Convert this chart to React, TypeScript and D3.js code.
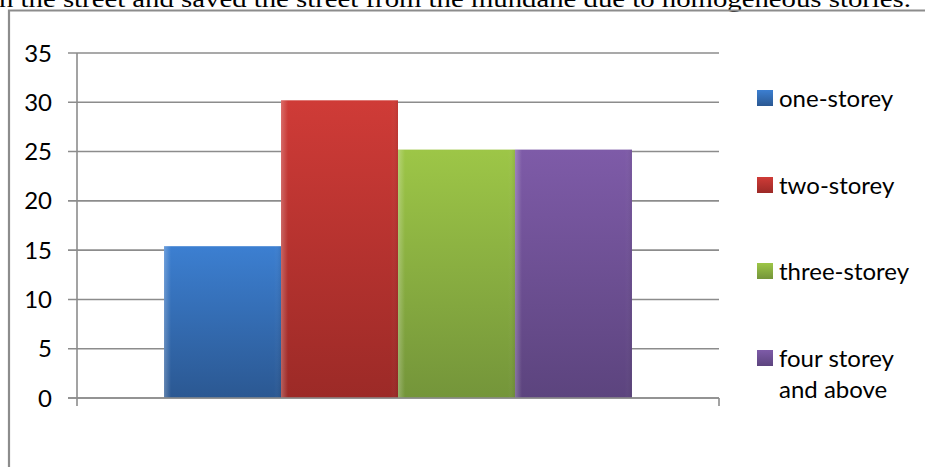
import React from "react";
import * as d3 from "d3";

const categories = ["one-storey", "two-storey", "three-storey", "four storey and above"];
const legendLines = [["one-storey"], ["two-storey"], ["three-storey"], ["four storey", "and above"]];
const values = [15.4, 30.2, 25.2, 25.2];
const yTicks = [0, 5, 10, 15, 20, 25, 30, 35];
const colorsTop = ["#3c7fd1", "#cf3b37", "#9dc647", "#7e5ba8"];
const colorsBottom = ["#2b5892", "#9c2a27", "#74953a", "#5c447e"];
const headerText = "n the street and saved the street from the mundane due to homogeneous stories.";

export default function App() {
  const W = 925, H = 467;
  const left = 77, right = 719, top = 53, bottom = 398;
  const y = d3.scaleLinear().domain([0, 35]).range([bottom, top]);
  const x = d3.scaleBand<string>().domain(categories).range([left, right]).paddingInner(0).paddingOuter(0.744);
  const grid = "#8c8c8c";
  const font = "Lato, 'Open Sans', sans-serif";
  const legendY = [98, 185, 271, 358];

  return (
    <div style={{ position: "absolute", left: 0, top: 0, width: W, height: H, background: "#fff" }}>
      <svg width={W} height={H} style={{ display: "block" }}>
        <defs>
          {categories.map((c, i) => (
            <linearGradient key={c} id={`g${i}`} x1="0" y1="0" x2="0" y2="1">
              <stop offset="0%" stopColor={colorsTop[i]} />
              <stop offset="100%" stopColor={colorsBottom[i]} />
            </linearGradient>
          ))}
          <linearGradient id="edge" x1="0" y1="0" x2="1" y2="0">
            <stop offset="0%" stopColor="#fff" stopOpacity="0.25" />
            <stop offset="6%" stopColor="#fff" stopOpacity="0" />
            <stop offset="94%" stopColor="#fff" stopOpacity="0" />
            <stop offset="100%" stopColor="#000" stopOpacity="0.08" />
          </linearGradient>
        </defs>
        <text x={-1} y={7} fontFamily="'Liberation Serif', 'DejaVu Serif', serif" fontSize={24}
          textLength={912} lengthAdjust="spacingAndGlyphs" fill="#000">{headerText}</text>
        {/* outer frame */}
        <path d={`M9,${H + 5} V10.5 H${W + 5}`} fill="none" stroke={grid} strokeWidth={2.2} />
        {/* gridlines */}
        {yTicks.map((t) => (
          <g key={t}>
            <line x1={68} x2={right} y1={y(t)} y2={y(t)} stroke={grid} strokeWidth={1.6} />
            <text x={52} y={y(t)} dy="0.36em" textAnchor="end" fontFamily={font} fontSize={24} fill="#000">{t}</text>
          </g>
        ))}
        {/* bars */}
        {categories.map((c, i) => (
          <g key={c}>
            <rect x={x(c)!} y={y(values[i])} width={x.bandwidth()} height={y(0) - y(values[i])} fill={`url(#g${i})`} />
            <rect x={x(c)!} y={y(values[i])} width={x.bandwidth()} height={y(0) - y(values[i])} fill="url(#edge)" />
          </g>
        ))}
        {/* axes */}
        <line x1={left} x2={left} y1={top} y2={406} stroke={grid} strokeWidth={1.6} />
        <line x1={68} x2={right} y1={y(0)} y2={y(0)} stroke={grid} strokeWidth={1.6} />
        <line x1={right} x2={right} y1={y(0)} y2={406} stroke={grid} strokeWidth={1.6} />
        {/* legend */}
        {categories.map((c, i) => (
          <g key={c}>
            <rect x={757} y={legendY[i] - 8} width={16} height={16} fill={`url(#g${i})`} />
            {legendLines[i].map((ln, j) => (
              <text key={j} x={779} y={legendY[i] + j * 31} dy="0.36em" fontFamily={font} fontSize={24} fill="#000">{ln}</text>
            ))}
          </g>
        ))}
      </svg>
    </div>
  );
}
